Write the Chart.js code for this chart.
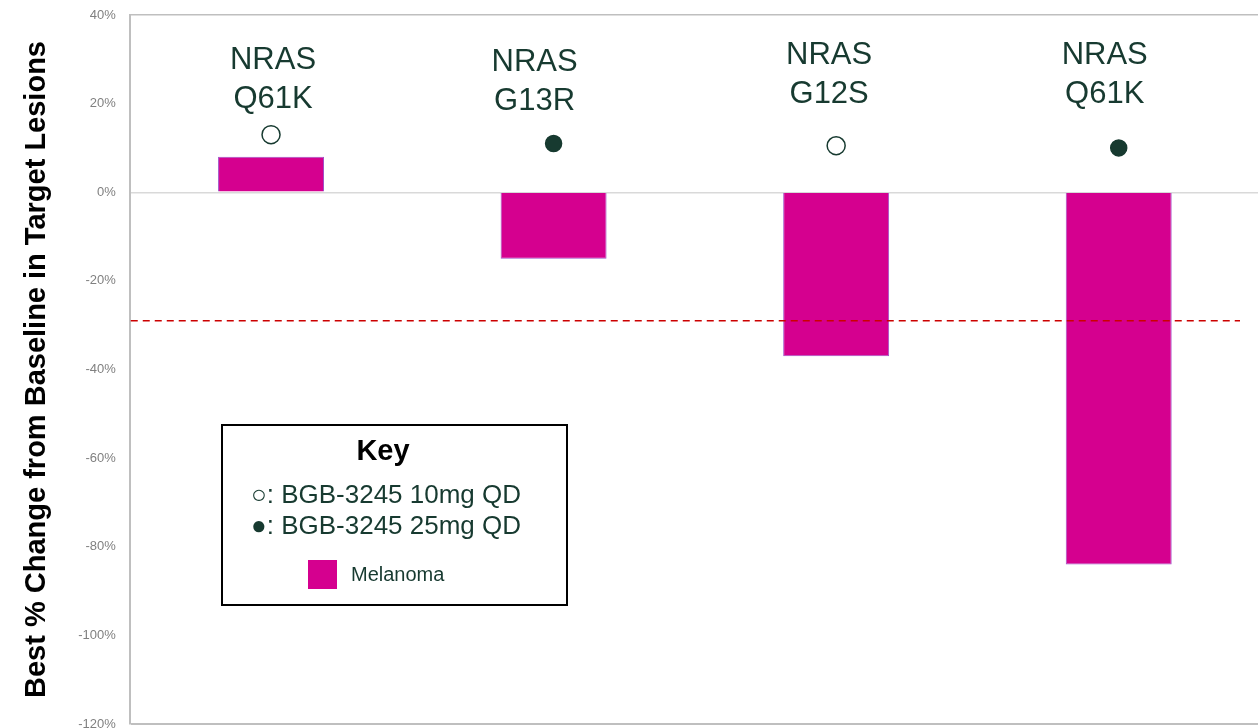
<!DOCTYPE html>
<html>
<head>
<meta charset="utf-8">
<script src="https://cdn.jsdelivr.net/npm/chart.js@4/dist/chart.umd.min.js"></script>
<style>
html, body { margin: 0; padding: 0; background: #fff; overflow: hidden; }
#wrap { width: 1260px; height: 728px; }
</style>
</head>
<body>
<div id="wrap"><canvas id="grafico" width="1260" height="728"></canvas></div>
<script>
// datos del grafico
var mutaciones = ["NRAS\nQ61K", "NRAS\nG13R", "NRAS\nG12S", "NRAS\nQ61K"];
var cambio_pct = [8, -15, -37, -84];
var dosis = ["10mg", "25mg", "10mg", "25mg"];
var marca_pct = [13, 11, 10.5, 10];
var umbral_pct = -29;
var ticks_y = [40, 20, 0, -20, -40, -60, -80, -100, -120];

// estilos
var color_barra = "#d5008f";
var color_texto = "#173a30";
var fuente = "'Liberation Sans', Arial, sans-serif";
var etiqueta_dx = [2, -19, -7, -14];
var etiqueta_y = [60, 62, 55, 55];

function $each(arr, fn){
	for (var i = 0; i < arr.length; i++) fn(i, arr[i]);
}

var plugin_anotaciones = {
	id: "anotaciones",
	afterDatasetsDraw: function(chart){
		var ctx = chart.ctx;
		var xs = chart.scales.x;
		var ys = chart.scales.y;
		var area = chart.chartArea;
		ctx.save();
		// linea de respuesta
		var yl = ys.getPixelForValue(umbral_pct);
		ctx.strokeStyle = "#cc0000";
		ctx.lineWidth = 1.6;
		ctx.setLineDash([7, 5]);
		ctx.beginPath();
		ctx.moveTo(area.left + 1, yl);
		ctx.lineTo(1240, yl);
		ctx.stroke();
		ctx.setLineDash([]);

		// etiquetas de mutacion
		ctx.fillStyle = color_texto;
		ctx.font = "31px " + fuente;
		ctx.textAlign = "center";
		ctx.textBaseline = "middle";
		$each(mutaciones, function(i, txt){
			var lineas = txt.split("\n");
			var x = xs.getPixelForValue(i) + etiqueta_dx[i];
			for (var k = 0; k < lineas.length; k++) {
				ctx.fillText(lineas[k], x, etiqueta_y[i] + k * 39);
			}
		});

		// caja de la clave
		ctx.strokeStyle = "#000";
		ctx.lineWidth = 2;
		ctx.fillStyle = "#fff";
		ctx.fillRect(222, 425, 345, 180);
		ctx.strokeRect(222, 425, 345, 180);
		ctx.fillStyle = "#000";
		ctx.font = "bold 29px " + fuente;
		ctx.fillText("Key", 383, 452);
		ctx.fillStyle = color_texto;
		ctx.textAlign = "left";
		ctx.font = "26px " + fuente;
		ctx.fillText("\u25CB: BGB-3245 10mg QD", 251, 496);
		ctx.fillText("\u25CF: BGB-3245 25mg QD", 251, 527);
		ctx.fillStyle = color_barra;
		ctx.fillRect(308, 560, 29, 29);
		ctx.fillStyle = color_texto;
		ctx.font = "20px " + fuente;
		ctx.fillText("Melanoma", 351, 575);
		ctx.restore();
	}
};

new Chart(document.getElementById("grafico"), {
	type: "bar",
	data: {
		labels: mutaciones,
		datasets: [{
			label: "Melanoma",
			data: cambio_pct,
			backgroundColor: color_barra,
			borderColor: "#a050c8",
			borderWidth: 1,
			barPercentage: 0.375,
			categoryPercentage: 1,
			order: 2
		}, {
			type: "line",
			label: "Dosis",
			data: marca_pct,
			showLine: false,
			pointStyle: "circle",
			pointRadius: dosis.map(function(d){ return d == "10mg" ? 9 : 8; }),
			pointBackgroundColor: dosis.map(function(d){ return d == "10mg" ? "#fff" : color_texto; }),
			pointBorderColor: color_texto,
			pointBorderWidth: 1.5,
			order: 1
		}]
	},
	options: {
		responsive: false,
		animation: false,
		layout: { autoPadding: false, padding: { top: 15, right: 0, bottom: 4, left: 0 } },
		plugins: {
			legend: { display: false },
			tooltip: { enabled: false }
		},
		scales: {
			x: {
				grid: { display: false },
				border: { display: false },
				ticks: { display: false },
				afterFit: function(scale){ scale.height = 0; }
			},
			y: {
				min: -120,
				max: 40,
				afterBuildTicks: function(scale){
					scale.ticks = ticks_y.map(function(v){ return { value: v }; });
				},
				afterFit: function(scale){
					scale.width = 129.75;
					scale.paddingTop = 0;
					scale.paddingBottom = 0;
				},
				ticks: {
					color: "#808080",
					padding: 14,
					font: { family: fuente, size: 13 },
					callback: function(v){ return v + "%"; }
				},
				grid: {
					drawTicks: false,
					color: function(c){
						if (c.tick && (c.tick.value === 0)) return "#d9d9d9";
						if (c.tick && (c.tick.value === 40 || c.tick.value === -120)) return "#bfbfbf";
						return "rgba(0,0,0,0)";
					},
					lineWidth: function(c){
						return (c.tick && c.tick.value === -120) ? 2 : 1.5;
					}
				},
				border: { color: "#bfbfbf", width: 2 },
				title: {
					display: true,
					text: "Best % Change from Baseline in Target Lesions",
					color: "#000",
					font: { family: fuente, size: 29, weight: "bold", lineHeight: 1 },
					padding: { top: 22, bottom: 0 }
				}
			}
		}
	},
	plugins: [plugin_anotaciones]
});
</script>
</body>
</html>
